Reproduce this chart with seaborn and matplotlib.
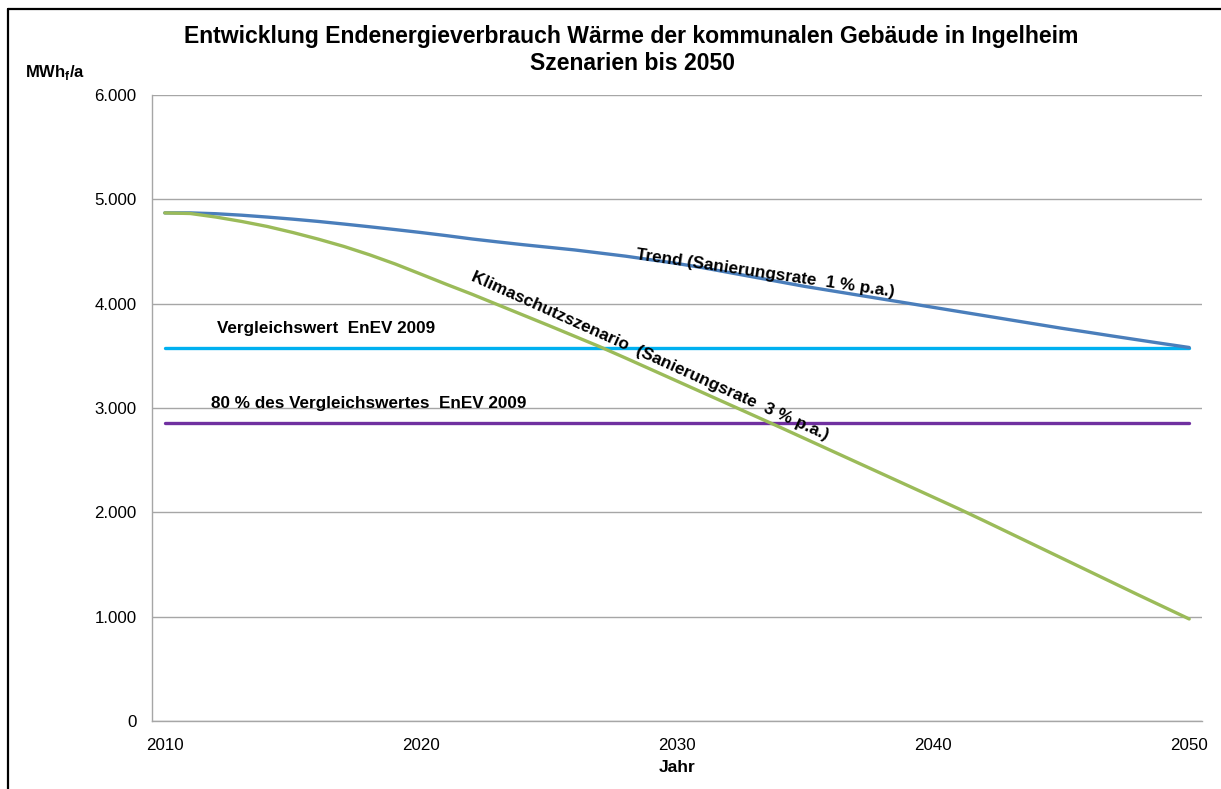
import numpy as np
import pandas as pd
import matplotlib
matplotlib.use('Agg')
import matplotlib.pyplot as plt
from matplotlib.lines import Line2D
from matplotlib.ticker import FixedLocator, FuncFormatter
import seaborn as sns

#%% data
years = list(range(2010, 2051))

trend = [4870, 4870, 4862, 4848, 4830, 4810, 4788, 4763, 4737, 4710,
         4682, 4652, 4620, 4592, 4565, 4540, 4515, 4485, 4455, 4420,
         4385, 4345, 4300, 4255, 4210, 4165, 4125, 4085, 4045, 4005,
         3965, 3925, 3885, 3845, 3805, 3765, 3728, 3690, 3653, 3616,
         3580]

klimaschutz = [4870, 4864, 4830, 4788, 4740, 4682, 4618, 4548, 4468, 4380,
               4283, 4185, 4090, 3990, 3890, 3790, 3688, 3586, 3478, 3368,
               3258, 3148, 3038, 2928, 2818, 2706, 2594, 2482, 2370, 2258,
               2146, 2034, 1918, 1800, 1682, 1564, 1446, 1328, 1210, 1094,
               978]

enev_2009 = 3575
enev_80 = 2860

y_ticks = [0, 1000, 2000, 3000, 4000, 5000, 6000]
x_labels = [2010, 2020, 2030, 2040, 2050]

#%% frame
df = pd.DataFrame({'pos': np.arange(len(years)), 'Jahr': years,
                   'Trend': trend, 'Klimaschutz': klimaschutz})
df['EnEV'] = enev_2009
df['EnEV80'] = enev_80

#%% style
sns.set_style('white')
plt.rcParams['font.family'] = ['Liberation Sans', 'DejaVu Sans']
plt.rcParams['mathtext.fontset'] = 'custom'
plt.rcParams['mathtext.bf'] = 'Liberation Sans:bold'
plt.rcParams['mathtext.rm'] = 'Liberation Sans'
for k in ['text.color', 'axes.labelcolor', 'xtick.color', 'ytick.color']:
    plt.rcParams[k] = 'black'

fig = plt.figure(figsize=(12.21, 7.89), dpi=100)
W, H = 1221, 789
ax = fig.add_axes([152 / W, 1 - 721 / H, 1050 / W, 626 / H])

lw = 2.4
sns.lineplot(data=df, x='pos', y='EnEV', color='#00B0F0', lw=lw, ax=ax)
sns.lineplot(data=df, x='pos', y='EnEV80', color='#7030A0', lw=lw, ax=ax)
sns.lineplot(data=df, x='pos', y='Trend', color='#4A7EBB', lw=lw, ax=ax)
sns.lineplot(data=df, x='pos', y='Klimaschutz', color='#9BBB59', lw=lw, ax=ax)

#%% axes
ax.set_xlim(-0.5, len(years) - 0.5)
ax.set_ylim(0, 6000)
ax.set_yticks(y_ticks)
ax.yaxis.set_major_formatter(FuncFormatter(lambda v, p: f'{int(v):,}'.replace(',', '.')))
ax.grid(axis='y', color='#A6A6A6', lw=1)
ax.set_axisbelow(True)

ax.set_xticks([years.index(y) for y in x_labels])
ax.set_xticklabels([str(y) for y in x_labels])
ax.xaxis.set_minor_locator(FixedLocator(np.arange(-0.5, len(years), 1)))
ax.tick_params(axis='x', which='major', length=0, pad=12, labelsize=12.2, labelcolor='black')
ax.tick_params(axis='x', which='minor', length=4.5, width=1, color='#A6A6A6', direction='out')
ax.tick_params(axis='y', which='major', length=5, width=1, color='#A6A6A6', direction='out',
               pad=6, labelsize=12.2, labelcolor='black')

for s in ['top', 'right']:
    ax.spines[s].set_visible(False)
for s in ['left', 'bottom']:
    ax.spines[s].set_color('#A6A6A6')
    ax.spines[s].set_linewidth(1)

ax.set_xlabel('Jahr', fontsize=12.5, fontweight='bold', labelpad=5)
ax.set_ylabel('')

#%% texts
fig.text(631 / W, 1 - 36 / H, 'Entwicklung Endenergieverbrauch Wärme der kommunalen Gebäude in Ingelheim',
         ha='center', va='center', fontsize=16.6, fontweight='bold')
fig.text(633 / W, 1 - 63 / H, 'Szenarien bis 2050',
         ha='center', va='center', fontsize=16.6, fontweight='bold')
fig.text(25 / W, 1 - 72 / H, r'MWh$_\mathbf{f}$/a', ha='left', va='center',
         fontsize=12, fontweight='bold')

ax.text(2.05, 3690, 'Vergleichswert  EnEV 2009', fontsize=12.3, fontweight='bold',
        ha='left', va='bottom')
ax.text(1.8, 2975, '80 % des Vergleichswertes  EnEV 2009', fontsize=12.3, fontweight='bold',
        ha='left', va='bottom')
ax.text(23.45, 4290, 'Trend (Sanierungsrate  1 % p.a.)', fontsize=12.3, fontweight='bold',
        ha='center', va='center', rotation=-8.3, rotation_mode='anchor')
ax.text(18.95, 3495, 'Klimaschutzszenario  (Sanierungsrate  3 % p.a.)', fontsize=12.3,
        fontweight='bold', ha='center', va='center', rotation=-24.2, rotation_mode='anchor')

# chart area border (top and left edge visible)
fig.add_artist(Line2D([8 / W, 8 / W], [0, 1 - 9 / H], transform=fig.transFigure,
                      color='black', lw=1.6))
fig.add_artist(Line2D([8 / W, 1], [1 - 9 / H, 1 - 9 / H], transform=fig.transFigure,
                      color='black', lw=1.6))

fig.savefig('out.png', dpi=100)
